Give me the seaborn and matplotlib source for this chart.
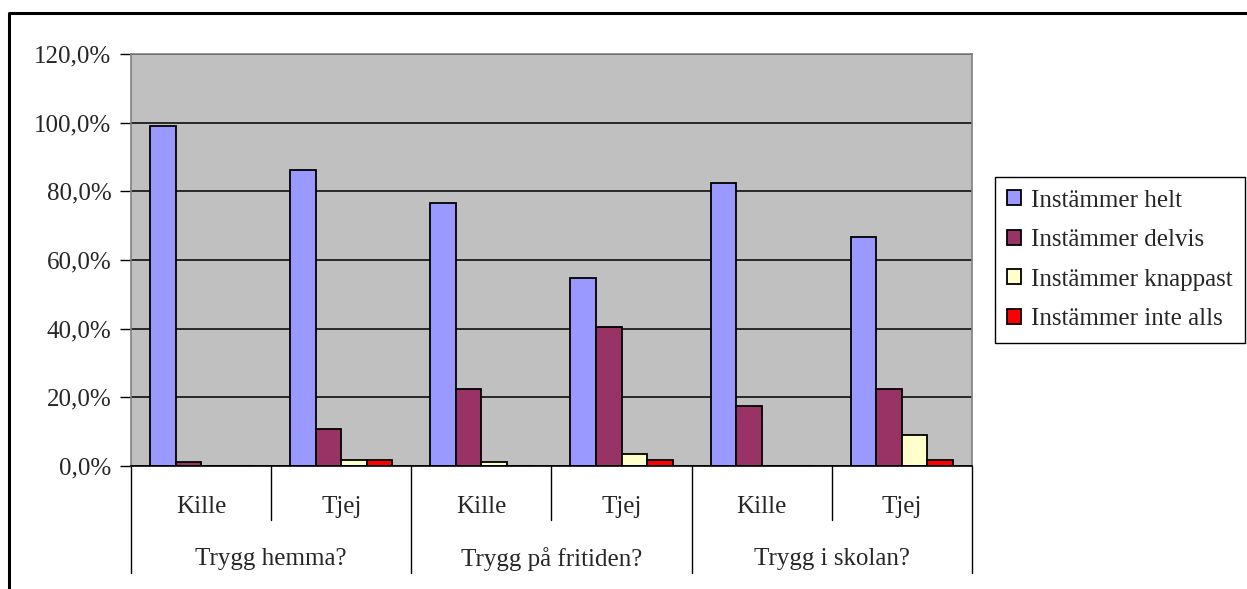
import pandas as pd
import matplotlib.pyplot as plt
import seaborn as sns
from matplotlib.lines import Line2D
from matplotlib.ticker import FuncFormatter

# data
groups = ['Trygg hemma?', 'Trygg på fritiden?', 'Trygg i skolan?']
genders = ['Kille', 'Tjej']
answers = ['Instämmer helt', 'Instämmer delvis', 'Instämmer knappast', 'Instämmer inte alls']
helt = [99.0, 86.2, 76.7, 54.7, 82.3, 66.6]
delvis = [1.2, 10.7, 22.5, 40.5, 17.5, 22.5]
knappast = [0.0, 1.7, 1.2, 3.4, 0.0, 9.0]
inte_alls = [0.0, 1.7, 0.0, 1.7, 0.0, 1.7]
colors = ['#9999FF', '#993366', '#FFFFCC', '#FF0000']

slots = [g + ' ' + k for g in groups for k in genders]
rows = []
for ans, vals in zip(answers, [helt, delvis, knappast, inte_alls]):
    for slot, v in zip(slots, vals):
        rows.append({'slot': slot, 'svar': ans, 'value': v / 100})
df = pd.DataFrame(rows)

sns.set_style('white')
plt.rcParams['font.family'] = ['Liberation Serif', 'DejaVu Serif']

W, H = 1247, 589
fig = plt.figure(figsize=(W / 100, H / 100), dpi=100)
ax = fig.add_axes([131 / W, 1 - 466 / H, (972 - 131) / W, (466 - 54) / H])

sns.barplot(data=df, x='slot', y='value', hue='svar', order=slots, hue_order=answers,
            palette=colors, width=0.73, edgecolor='black', linewidth=1.3,
            errorbar=None, saturation=1, ax=ax)

ax.set_facecolor('#C0C0C0')
ax.set_ylim(0, 1.2)
ax.set_xlim(-0.5, 5.5)
ax.set_yticks([0, 0.2, 0.4, 0.6, 0.8, 1.0, 1.2])
ax.yaxis.set_major_formatter(FuncFormatter(lambda v, p: f'{v * 100:.1f}%'.replace('.', ',')))
ax.yaxis.grid(True, color='black', lw=1.1)
ax.set_axisbelow(True)
ax.tick_params(axis='y', left=True, length=8, width=1, color='black', labelsize=18, pad=6)
ax.set_xticks([])
ax.set_xlabel('')
ax.set_ylabel('')
for s in ['left', 'top', 'right']:
    ax.spines[s].set_color('#808080')
    ax.spines[s].set_linewidth(1.2)
ax.spines['bottom'].set_color('black')
ax.spines['bottom'].set_linewidth(1.2)

# two-level category axis
tr = ax.get_xaxis_transform()
ax_h = 466 - 54
for i, slot in enumerate(slots):
    ax.text(i, -41 / ax_h, genders[i % 2], transform=tr, ha='center', va='center', fontsize=18)
for j, g in enumerate(groups):
    ax.text(2 * j + 0.5, -93 / ax_h, g, transform=tr, ha='center', va='center', fontsize=18)
for b in range(7):
    x = b - 0.5
    low = -107 / ax_h if b % 2 == 0 else -54 / ax_h
    ax.add_line(Line2D([x, x], [0, low], transform=tr, color='black', lw=1, clip_on=False))

handles, labels = ax.get_legend_handles_labels()
ax.legend(handles, labels, loc='upper left', bbox_to_anchor=(995 / W, 1 - 177 / H),
          bbox_transform=fig.transFigure, fontsize=18, frameon=True, fancybox=False,
          edgecolor='black', framealpha=1, handlelength=0.55, handleheight=0.55,
          handletextpad=0.4, labelspacing=0.7, borderpad=0.5, borderaxespad=0)
ax.get_legend().get_frame().set_linewidth(1)

# outer chart border
fig.add_artist(Line2D([9 / W, 9 / W, 1], [0, 1 - 13 / H, 1 - 13 / H],
                      transform=fig.transFigure, color='black', lw=2.2))

fig.savefig('out.png', dpi=100)
